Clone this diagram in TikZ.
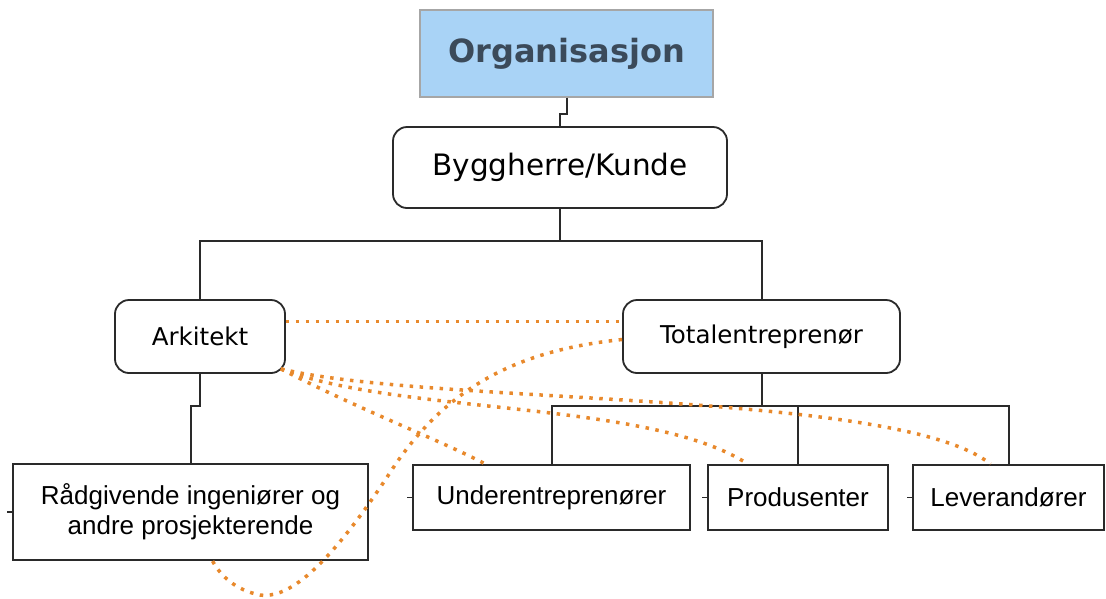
\documentclass[tikz,border=0pt]{standalone}
\usepackage{fontspec}
\setmainfont{DejaVu Sans}
\newfontfamily\arialfont{Liberation Sans}
\usetikzlibrary{calc}
\definecolor{orgblue}{HTML}{A9D3F6}
\definecolor{orgtext}{HTML}{3B4A5A}
\definecolor{dotorange}{HTML}{E8892C}
\definecolor{boxline}{HTML}{2A2A2A}

\begin{document}
\begin{tikzpicture}[x=1pt,y=-1pt,
  rbox/.style={draw=boxline,line width=1.8pt,rounded corners=14pt,fill=white,inner sep=0pt},
  sbox/.style={draw=boxline,line width=1.8pt,fill=white,inner sep=0pt,font=\arialfont\fontsize{26}{30}\selectfont},
  link/.style={boxline,line width=2pt},
  dotline/.style={dotorange,line width=3.5pt,dash pattern=on 3.5pt off 6.5pt}]
  \useasboundingbox (0,0) rectangle (1106,598);

  % top of the tree
  \node[draw=gray!70,line width=1.2pt,fill=orgblue,minimum width=293pt,minimum height=87pt,
        font=\bfseries\fontsize{32}{38}\selectfont,text=orgtext] (org) at (566.5,53.5) {Organisasjon};
  \node[rbox,minimum width=334pt,minimum height=81pt,font=\fontsize{29.5}{34}\selectfont] (byg) at (560,167.5) {Byggherre/Kunde};

  % second level
  \node[rbox,minimum width=170pt,minimum height=73pt,font=\fontsize{24.5}{28}\selectfont] (ark) at (200,336.5) {Arkitekt};
  \node[rbox,minimum width=277pt,minimum height=73pt,font=\fontsize{24.5}{28}\selectfont] (tot) at (761.5,336.5) {Totalentreprenør};

  % bottom row
  \node[sbox,minimum width=355pt,minimum height=96pt,align=center] (rad) at (190.5,512) {Rådgivende ingeniører og\\andre prosjekterende};
  \node[sbox,minimum width=277pt,minimum height=65pt] (und) at (551.5,497.5) {Underentreprenører};
  \node[sbox,minimum width=180pt,minimum height=65pt] (pro) at (798,497.5) {Produsenter};
  \node[sbox,minimum width=191pt,minimum height=65pt] (lev) at (1008.5,497.5) {Leverandører};

  % tree links
  \draw[link] (org.south) -- ++(0,16) -| (byg.north);
  \draw[link] (byg.south) -- ++(0,32) -| (ark.north);
  \draw[link] (byg.south) -- ++(0,32) -| (tot.north);
  \draw[link] (ark.south) -- ++(0,32) -| (rad.north);
  \draw[link] (tot.south) -- ++(0,32) -| (und.north);
  \draw[link] (tot.south) -- ++(0,32) -| (pro.north);
  \draw[link] (tot.south) -- ++(0,32) -| (lev.north);
  \foreach \n in {rad,und,pro,lev}
    \draw[link,line width=1.2pt] (\n.west) -- ++(-5,0);

  % dotted relations
  \draw[dotline] ([yshift=15pt]ark.east) -- ([yshift=15pt]tot.west);
  \draw[dotline] ([yshift=-3pt]tot.west) .. controls (520,350) and (450,385) .. (395,465)
    .. controls (340,550) and (295,600) .. (260,595) .. controls (235,590) and (220,575) .. ([xshift=22pt]rad.south);
  \draw[dotline] ([xshift=-5pt,yshift=5pt]ark.south east) .. controls (360,410) and (440,440) .. ([xshift=-66pt]und.north);
  \draw[dotline] ([xshift=-5pt,yshift=5pt]ark.south east) .. controls (400,415) and (650,400) .. ([xshift=-50pt]pro.north);
  \draw[dotline] ([xshift=-5pt,yshift=5pt]ark.south east) .. controls (430,405) and (900,390) .. ([xshift=-18pt]lev.north);
\end{tikzpicture}
\end{document}
